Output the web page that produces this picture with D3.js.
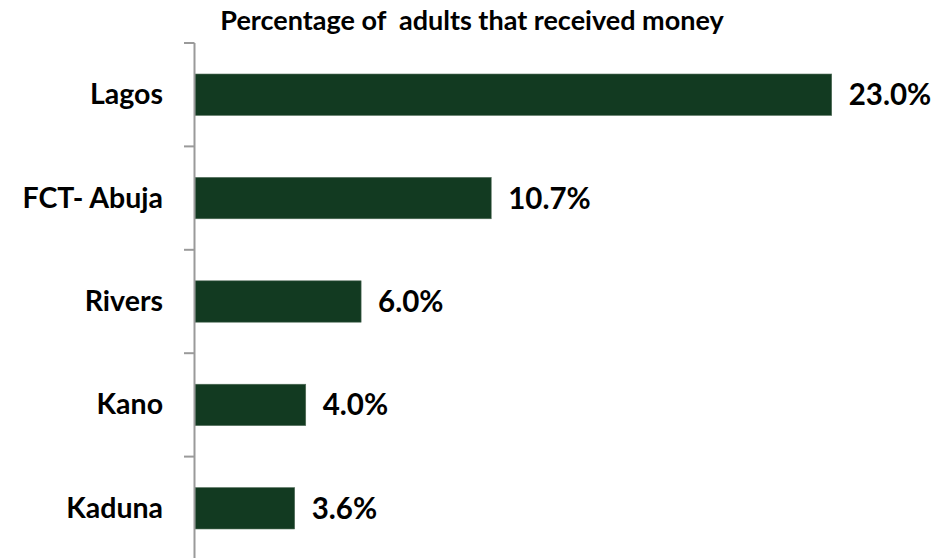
<!DOCTYPE html>
<html>
<head>
<meta charset="utf-8">
<script src="https://cdn.jsdelivr.net/npm/d3@7"></script>
<style>
  html, body { margin: 0; padding: 0; background: #fff; }
  svg { display: block; }
  text { font-family: Lato, "Open Sans", sans-serif; font-weight: 700; fill: #000; }
</style>
</head>
<body>
<svg id="chart" width="942" height="558"></svg>
<script>
// Share of adults that received money, by state
const states = ["Lagos", "FCT- Abuja", "Rivers", "Kano", "Kaduna"];
const shares = [23.0, 10.7, 6.0, 4.0, 3.6];
const chartTitle = "Percentage of  adults that received money";

const svg = d3.select("#chart");

const x = d3.scaleLinear().domain([0, 23]).range([195, 831.7]);
const y = d3.scaleBand()
  .domain(states)
  .range([43, 560])
  .paddingInner(0.6)
  .paddingOuter(0.3);

const data = states.map((s, i) => ({ state: s, value: shares[i] }));

// Title
svg.append("text")
  .attr("x", 472)
  .attr("y", 30)
  .attr("text-anchor", "middle")
  .attr("font-size", 27)
  .attr("xml:space", "preserve")
  .style("white-space", "pre")
  .text(chartTitle);

// Bars
svg.append("g").selectAll("rect")
  .data(data)
  .join("rect")
  .attr("x", x(0))
  .attr("y", d => y(d.state))
  .attr("width", d => x(d.value) - x(0))
  .attr("height", y.bandwidth())
  .attr("fill", "#123a21")
  .attr("stroke", "#4f6b57")
  .attr("stroke-width", 0.6);

// Category axis: vertical line plus ticks on band boundaries
const axisG = svg.append("g");
axisG.append("line")
  .attr("x1", 194.5).attr("x2", 194.5)
  .attr("y1", 43).attr("y2", 560)
  .attr("stroke", "#9a9a9a").attr("stroke-width", 2);

const boundaries = d3.range(states.length + 1).map(i => 43 + i * y.step());
axisG.selectAll("line.tick")
  .data(boundaries)
  .join("line")
  .attr("class", "tick")
  .attr("x1", 184).attr("x2", 194.5)
  .attr("y1", d => d).attr("y2", d => d)
  .attr("stroke", "#9a9a9a").attr("stroke-width", 2);

// Category labels
svg.append("g").selectAll("text")
  .data(data)
  .join("text")
  .attr("x", 163)
  .attr("y", d => y(d.state) + y.bandwidth() / 2 + 9.5)
  .attr("text-anchor", "end")
  .attr("font-size", 28.5)
  .text(d => d.state);

// Value labels
svg.append("g").selectAll("text")
  .data(data)
  .join("text")
  .attr("x", d => x(d.value) + 17)
  .attr("y", d => y(d.state) + y.bandwidth() / 2 + 10.5)
  .attr("font-size", 29.5)
  .text(d => d3.format(".1f")(d.value) + "%");
</script>
</body>
</html>
